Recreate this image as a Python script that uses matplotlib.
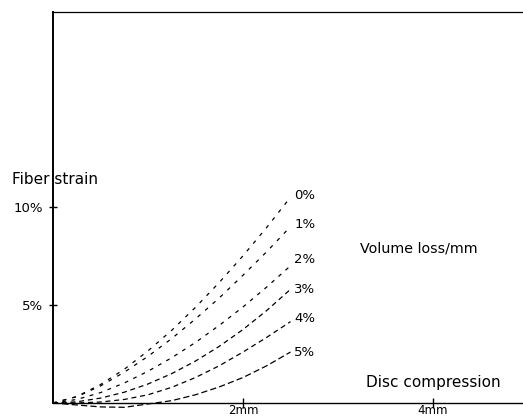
import matplotlib
matplotlib.use("Agg")
import matplotlib.pyplot as plt

plt.rcParams['font.family'] = ['Liberation Sans', 'DejaVu Sans']

# Disc compression (mm)
compression = [0.0, 0.25, 0.5, 0.75, 1.0, 1.25, 1.5, 1.75, 2.0, 2.25, 2.5]
# Fiber strain (%) for each volume loss per mm
strain_0 = [0.0, 0.33, 0.94, 1.72, 2.66, 3.71, 4.88, 6.15, 7.51, 8.96, 10.5]
strain_1 = [0.0, 0.32, 0.87, 1.57, 2.38, 3.29, 4.29, 5.36, 6.52, 7.72, 9.0]
strain_2 = [0.0, 0.18, 0.53, 1.02, 1.62, 2.31, 3.09, 3.96, 4.90, 5.92, 7.0]
strain_3 = [0.0, 0.06, 0.25, 0.55, 0.97, 1.50, 2.14, 2.89, 3.75, 4.72, 5.8]
strain_4 = [0.0, 0.0, 0.05, 0.18, 0.42, 0.80, 1.30, 1.90, 2.60, 3.35, 4.15]
strain_5 = [0.0, -0.1, -0.2, -0.22, -0.05, 0.12, 0.42, 0.82, 1.3, 1.9, 2.6]
series = [strain_0, strain_1, strain_2, strain_3, strain_4, strain_5]
series_labels = ["0%", "1%", "2%", "3%", "4%", "5%"]
label_y = [10.6, 9.1, 7.3, 5.8, 4.3, 2.6]

x_ticks = [2, 4]
x_ticklabels = ["2mm", "4mm"]
y_ticks = [5, 10]
y_ticklabels = ["5%", "10%"]

dashes = [(0, (3, 5)), (0, (3, 5)), (0, (3, 4.5)), (0, (4, 3)), (0, (4, 3)), (0, (5, 2.5))]

fig = plt.figure(figsize=(5.23, 4.17), dpi=100)
ax = fig.add_axes([53/523, 14/417, 1 - 53/523, (403-12)/417])
ax.set_xlim(0, (523-53)/95)
ax.set_ylim(0, (403-12)/19.6)

for vals, ls in zip(series, dashes):
    ax.plot(compression, vals, color='black', linestyle=ls, linewidth=0.9, clip_on=False)

for lab, yv in zip(series_labels, label_y):
    ax.text(2.54, yv, lab, fontsize=9.5, family='DejaVu Sans', ha='left', va='center')

ax.spines['right'].set_visible(False)
ax.spines['left'].set_linewidth(1.4)
ax.spines['bottom'].set_linewidth(1.0)
ax.spines['top'].set_linewidth(0.9)

ax.set_xticks(x_ticks)
ax.set_xticklabels(x_ticklabels, fontsize=8.5, family='DejaVu Sans')
ax.set_yticks(y_ticks)
ax.set_yticklabels(y_ticklabels, fontsize=9.5, family='DejaVu Sans')
ax.tick_params(axis='x', direction='inout', length=7, width=1, pad=-2.5)
ax.tick_params(axis='y', direction='inout', length=6, width=1, pad=4)

fig.text(12/523, 1 - 180/417, "Fiber strain", fontsize=11, family='DejaVu Sans', ha='left', va='center')
fig.text(360/523, 1 - 248/417, "Volume loss/mm", fontsize=10.3, family='DejaVu Sans', ha='left', va='center')
fig.text(366/523, 1 - 383/417, "Disc compression", fontsize=11, family='DejaVu Sans', ha='left', va='center')

fig.savefig("out.png", dpi=100)
